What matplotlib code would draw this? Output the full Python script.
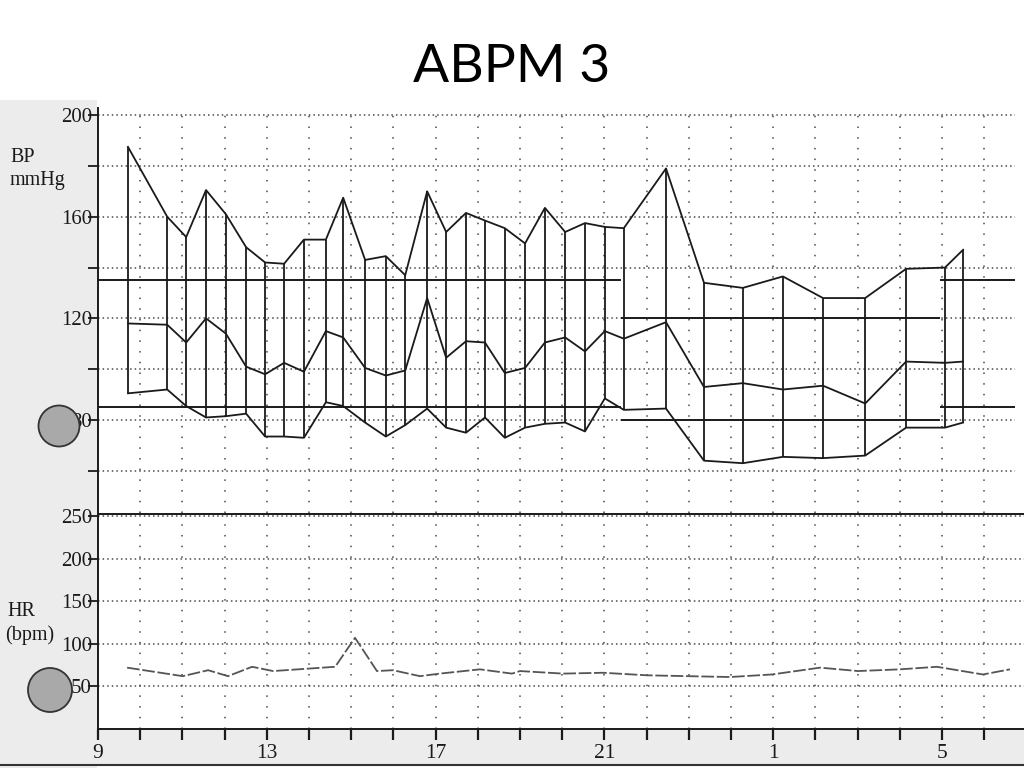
import matplotlib
matplotlib.use("Agg")
from matplotlib import pyplot as plt
from matplotlib.patches import Rectangle, Ellipse

# measurement times (hours, 25 = 1 am), systolic / mean / diastolic mmHg
times = [9.71, 10.64, 11.09, 11.56, 12.03, 12.51, 12.96, 13.41, 13.88, 14.40,
         14.81, 15.33, 15.82, 16.28, 16.80, 17.25, 17.72, 18.17, 18.64, 19.12,
         19.59, 20.07, 20.54, 21.01, 21.46, 22.46, 23.36, 24.28, 25.23, 26.18,
         27.18, 28.15, 29.07, 29.50]
sys_bp = [187.5, 160, 152, 170.5, 161, 148, 142, 141.5, 151, 151,
          167.5, 143, 144.5, 137, 170, 154, 161.5, 158.5, 155.5, 149.5,
          163.5, 154, 157.5, 156, 155.5, 179, 134, 132, 136.5, 128,
          128, 139.5, 140, 147]
map_bp = [118, 117.5, 110.5, 120, 114, 101, 98, 102.5, 99, 115,
          112.5, 100.5, 97.5, 99.5, 128, 104.5, 111, 110.5, 98.5, 100.5,
          110.5, 112.5, 107, 115, 112, 118.5, 93, 94.5, 92, 93.5,
          86.5, 103, 102.5, 103]
dia_bp = [90.5, 92, 85.5, 81, 81.5, 82.5, 73.5, 73.5, 73, 87,
          85.5, 79, 73.5, 78, 84.5, 77, 75, 81, 73, 77,
          78.5, 79, 75.5, 88.5, 84, 84.5, 64, 63, 65.5, 65,
          66, 77, 77, 79]

# heart rate
hr_times = [9.69, 11.01, 11.61, 12.08, 12.65, 13.15, 14.62, 15.09, 15.61, 15.99,
            16.63, 17.10, 18.05, 18.81, 19.0, 20.02, 20.97, 22.01, 22.98, 23.98,
            24.97, 26.11, 27.01, 28.0, 28.88, 29.97, 30.61]
hr = [72, 62, 69, 62, 73, 68, 73, 107, 68, 69,
      62, 65, 70, 65, 68, 65, 66, 63, 62, 61,
      64, 72, 68, 70, 73, 64, 70]

# day / night thresholds (start, end, systolic, diastolic)
periods = [(9, 21.4, 135, 85), (21.4, 28.95, 120, 80), (28.95, 31, 135, 85)]

hour_ticks = list(range(9, 31))
hour_labels = {9: '9', 13: '13', 17: '17', 21: '21', 25: '1', 29: '5'}

W, H = 1024, 768
PX = 42.2  # pixels per hour


def box(x0, y0, x1, y1):
    return [x0 / W, 1 - y1 / H, (x1 - x0) / W, (y1 - y0) / H]


ink = '#1a1a1a'
dots = '#4a4a4a'
serif = 'Liberation Serif'

fig = plt.figure(figsize=(10.24, 7.68), dpi=100)
fig.patch.set_facecolor('white')

# scanned paper margins
fig.add_artist(Rectangle((0, 0), 97 / W, 668 / H, transform=fig.transFigure,
                         facecolor='#ececec', edgecolor='none', zorder=-2))
fig.add_artist(Rectangle((0, 3 / H), 1, 36 / H, transform=fig.transFigure,
                         facecolor='#ececec', edgecolor='none', zorder=-2))
fig.add_artist(plt.Line2D([0, 1], [3 / H, 3 / H], transform=fig.transFigure,
                          color='#333333', lw=1.5, zorder=-1))

ax1 = fig.add_axes(box(98, 108, 1015, 513))
ax2 = fig.add_axes(box(98, 514, 1024, 729))

ax1.set_xlim(9, 9 + (1015 - 98) / PX)
ax1.set_ylim(43.4, 202.8)
ax2.set_xlim(9, 9 + (1024 - 98) / PX)
ax2.set_ylim(0, 252.3)

for ax in (ax1, ax2):
    ax.set_facecolor('white')
    for s in ax.spines.values():
        s.set_color(ink)
        s.set_linewidth(1.4)
    ax.spines['right'].set_visible(False)
ax1.spines['top'].set_visible(False)
ax1.spines['bottom'].set_visible(False)

# dotted grid
for h in range(10, 31):
    ax1.axvline(h, color=dots, lw=1.1, ls=(0, (1, 6)), zorder=1)
    ax2.axvline(h, color=dots, lw=1.1, ls=(0, (1, 6)), zorder=1)
for v in range(60, 201, 20):
    ax1.axhline(v, color=dots, lw=1.1, ls=(0, (1, 2)), zorder=1)
for v in range(50, 251, 50):
    ax2.axhline(v, color=dots, lw=1.1, ls=(0, (1, 2)), zorder=1)

# threshold lines
for start, end, s, d in periods:
    ax1.hlines([s, d], start, end, color=ink, lw=1.4, zorder=2)

# blood pressure
ax1.vlines(times, dia_bp, sys_bp, color=ink, lw=1.3, zorder=3)
ax1.plot(times, sys_bp, color=ink, lw=1.3, zorder=3)
ax1.plot(times, map_bp, color=ink, lw=1.3, zorder=3)
ax1.plot(times, dia_bp, color=ink, lw=1.3, zorder=3)

# heart rate
ax2.plot(hr_times, hr, color='#555555', lw=1.3, ls=(0, (7, 1.5)), zorder=3)

# ticks
bp_ticks = list(range(60, 201, 20))
ax1.set_yticks(bp_ticks)
ax1.set_yticklabels([str(v) if v in (80, 120, 160, 200) else '' for v in bp_ticks],
                    fontfamily=serif, fontsize=15, color=ink)
ax1.set_xticks([])
ax1.tick_params(axis='y', direction='out', length=7, width=1.3, color=ink, pad=-2.7)

ax2.set_yticks([50, 100, 150, 200, 250])
ax2.set_yticklabels(['50', '100', '150', '200', '250'],
                    fontfamily=serif, fontsize=15, color=ink)
ax2.set_xticks(hour_ticks)
ax2.set_xticklabels([hour_labels.get(h, '') for h in hour_ticks],
                    fontfamily=serif, fontsize=15.5, color=ink)
ax2.tick_params(axis='y', direction='out', length=7, width=1.3, color=ink, pad=-2.7)
ax2.tick_params(axis='x', direction='out', length=8, width=1.6, color=ink, pad=3)

# axis captions
fig.text(10 / W, 1 - 158 / H, 'BP', fontfamily=serif, fontsize=14.5, color=ink, va='center')
fig.text(10 / W, 1 - 181 / H, 'mmHg', fontfamily=serif, fontsize=14.5, color=ink, va='center')
fig.text(7 / W, 1 - 611 / H, 'HR', fontfamily=serif, fontsize=14.5, color=ink, va='center')
fig.text(5 / W, 1 - 635 / H, '(bpm)', fontfamily=serif, fontsize=14.5, color=ink, va='center')

# grey markers over the labels
for cx, cy, r in [(59, 426, 20.5), (50, 690, 22)]:
    fig.add_artist(Ellipse((cx / W, 1 - cy / H), 2 * r / W, 2 * r / H,
                           transform=fig.transFigure, facecolor='#a9a9a9',
                           edgecolor='#333333', lw=1.3, zorder=5))

fig.text(0.5, 1 - 67 / H, 'ABPM 3', fontfamily='Lato', fontsize=38.5,
         ha='center', va='center', color='black')

fig.savefig('out.png', dpi=100)
